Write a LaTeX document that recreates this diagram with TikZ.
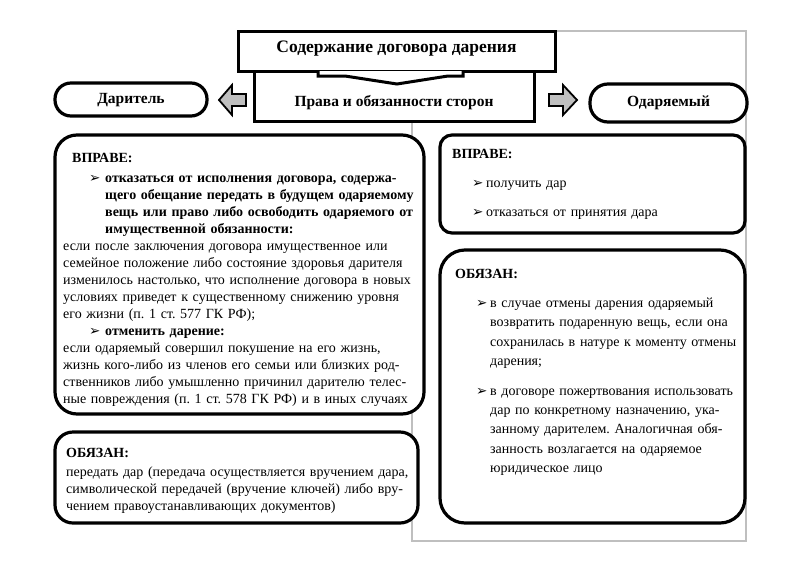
\documentclass[tikz,border=0pt]{standalone}
\usepackage{fontspec}
\setmainfont{Liberation Serif}
\newfontfamily\dvfont{DejaVu Sans}
\setlength\parindent{0pt}
\frenchspacing
% justified full line
\newcommand\jl[1]{\makebox[\hsize][s]{#1}}
% indented justified line
\newcommand\jli[2]{\hspace*{#1}\makebox[\dimexpr\hsize-#1\relax][s]{#2}}
% bullet: offset, text offset
\newcommand\bul[2]{\hspace*{#1}\makebox[\dimexpr#2-#1\relax][l]{\dvfont\fontsize{13.5}{13}\selectfont ➢}}
\newcommand\bjl[3]{\bul{#1}{#2}\makebox[\dimexpr\hsize-#2\relax][s]{#3}}
\begin{document}
\begin{tikzpicture}[x=1pt,y=-1pt,
  frame/.style={draw=black!25, line width=1.5pt},
  sqbox/.style={draw=black, line width=3pt, fill=white, inner sep=0pt, rectangle},
  rbox/.style={draw=black, line width=3.2pt, fill=white, inner sep=0pt, rectangle},
  barrow/.style={draw=black, line width=1.8pt, fill=black!25, line join=miter},
  txt/.style={anchor=base west, inner sep=0pt, align=left, font=\fontsize{14}{17}\selectfont},
  ttl/.style={inner sep=0pt, font=\bfseries\fontsize{17.5}{20}\selectfont},
  sub/.style={inner sep=0pt, font=\bfseries\fontsize{15.5}{18}\selectfont}]
\useasboundingbox (0,0) rectangle (800,560);
\fill[white] (0,0) rectangle (800,560);
% page frame
\draw[frame] (412,31) rectangle (746,541);
% header boxes
\node[sqbox, minimum width=280pt, minimum height=50pt] (subbox) at (394,96) {};
\node[sqbox, minimum width=317pt, minimum height=40pt] (titlebox) at (396.5,51) {};
\draw[line width=3pt, fill=white, line join=miter] (318,71) -- (318,76) -- (345,76) -- (397,84) -- (448,76) -- (463,76) -- (463,71);
\node[ttl] (title) at (396.5,49) {Содержание договора дарения};
\node[sub] (subtitle) at (394,103) {Права и обязанности сторон};
% block arrows
\draw[barrow] (246,94) -- (232,94) -- (232,85) -- (219,100) -- (232,115) -- (232,106) -- (246,106) -- cycle;
\draw[barrow] (549,94) -- (563,94) -- (563,85) -- (577,100) -- (563,115) -- (563,106) -- (549,106) -- cycle;
% parties
\node[rbox, rounded corners=16pt, minimum width=152pt, minimum height=33pt] (donor) at (131,99.5) {};
\node[sub] (donortxt) at (131,100) {Даритель};
\node[rbox, rounded corners=18pt, minimum width=157pt, minimum height=38pt] (donee) at (668.5,103) {};
\node[sub] (doneetxt) at (668.5,103) {Одаряемый};
% content boxes
\node[rbox, rounded corners=22pt, minimum width=369pt, minimum height=279pt] (lright) at (239.5,274.5) {};
\node[rbox, rounded corners=18pt, minimum width=363pt, minimum height=91pt] (lduty) at (236.5,477.5) {};
\node[rbox, rounded corners=12pt, minimum width=305pt, minimum height=98pt] (rright) at (592.5,184) {};
\node[rbox, rounded corners=25pt, minimum width=305pt, minimum height=273pt] (rduty) at (592.5,386.5) {};
% left rights text
\node[txt, text width=352pt] (lrighttxt) at (63,162) {%
\hspace*{9pt}\textbf{ВПРАВЕ:}\\[3pt]
\bjl{26pt}{42pt}{\bfseries отказаться от исполнения договора, содержа-}\\
\jli{42pt}{\bfseries щего обещание передать в будущем одаряемому}\\
\jli{42pt}{\bfseries вещь или право либо освободить одаряемого от}\\
\hspace*{42pt}\textbf{имущественной обязанности:}\\
\jl{если после заключения договора имущественное или}\\
\jl{семейное положение либо состояние здоровья дарителя}\\
\jl{изменилось настолько, что исполнение договора в новых}\\
\jl{условиях приведет к существенному снижению уровня}\\
его жизни (п. 1 ст. 577 ГК РФ);\\
\bul{26pt}{42pt}\textbf{отменить дарение:}\\
\jl{если одаряемый совершил покушение на его жизнь,}\\
\jl{жизнь кого-либо из членов его семьи или близких род-}\\
\jl{ственников либо умышленно причинил дарителю телес-}\\
\jl{ные повреждения (п. 1 ст. 578 ГК РФ) и в иных случаях}};
% left duties text
\node[txt, text width=342pt] (ldutytxt) at (66,457) {%
\textbf{ОБЯЗАН:}\\[2pt]
\jl{передать дар (передача осуществляется вручением дара,}\\
\jl{символической передачей (вручение ключей) либо вру-}\\
чением правоустанавливающих документов)};
% right rights text
\node[txt, text width=280pt, font=\fontsize{14}{29}\selectfont] (rrighttxt) at (452,158) {%
\textbf{ВПРАВЕ:}\\
\bul{20pt}{34pt}получить дар\\
\bul{20pt}{34pt}отказаться от принятия дара};
% right duties text
\node[txt, text width=273pt, font=\fontsize{14}{19.4}\selectfont] (rdutytxt) at (455,278) {%
\textbf{ОБЯЗАН:}\\[10pt]
\bjl{21pt}{35pt}{в случае отмены дарения одаряемый}\\
\jli{35pt}{возвратить подаренную вещь, если она}\\
\jli{35pt}{сохранилась в натуре к моменту отмены}\\
\hspace*{35pt}дарения;\\[10pt]
\bjl{21pt}{35pt}{в договоре пожертвования использовать}\\
\jli{35pt}{дар по конкретному назначению, ука-}\\
\jli{35pt}{занному дарителем. Аналогичная обя-}\\
\jli{35pt}{занность возлагается на одаряемое}\\
\hspace*{35pt}юридическое лицо};
\end{tikzpicture}
\end{document}
